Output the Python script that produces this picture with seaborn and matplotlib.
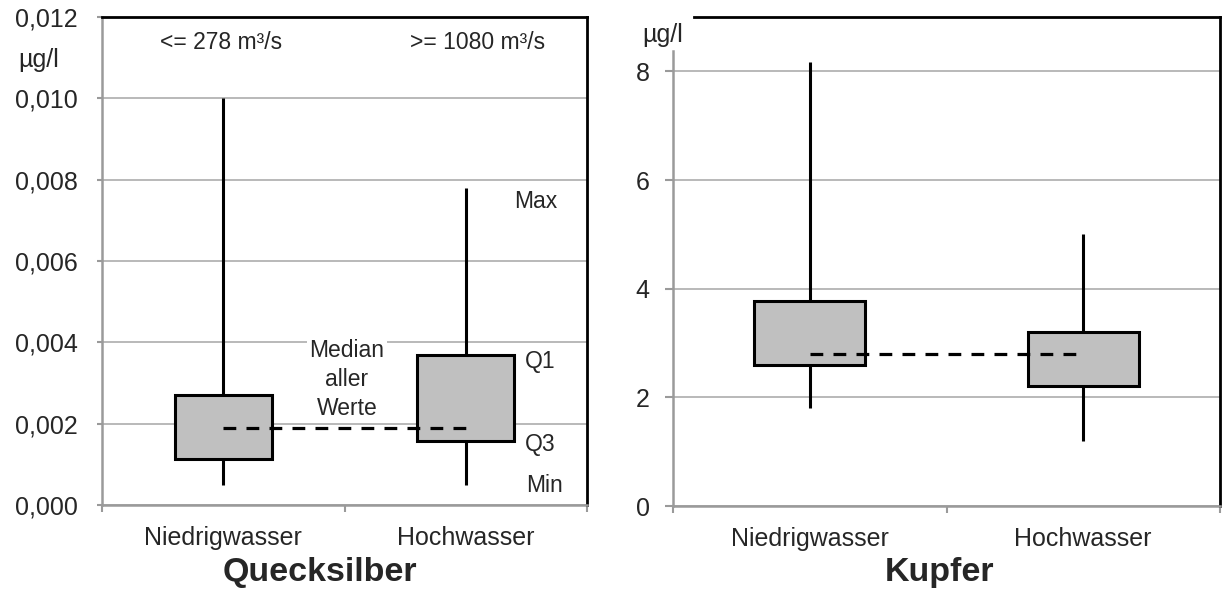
import numpy as np
import pandas as pd
import matplotlib
matplotlib.use("Agg")
import matplotlib.pyplot as plt
import seaborn as sns
from matplotlib.ticker import FixedLocator, FixedFormatter

# ---------------- data ----------------
categories = ["Niedrigwasser", "Hochwasser"]

# Quecksilber (µg/l)
hg_min = [0.0005, 0.0005]
hg_q_low = [0.00114, 0.00158]
hg_q_high = [0.0027, 0.0037]
hg_max = [0.0100, 0.0078]
hg_median_all = 0.0019
hg_yticks = [0.000, 0.002, 0.004, 0.006, 0.008, 0.010, 0.012]
hg_yticklabels = ["0,000", "0,002", "0,004", "0,006", "0,008", "0,010", "0,012"]

# Kupfer (µg/l)
cu_min = [1.8, 1.2]
cu_q_low = [2.6, 2.2]
cu_q_high = [3.77, 3.2]
cu_max = [8.17, 5.0]
cu_median_all = 2.8
cu_yticks = [0, 2, 4, 6, 8]
cu_yticklabels = ["0", "2", "4", "6", "8"]

flow_labels = ["<= 278 m³/s", ">= 1080 m³/s"]
stat_labels = ["Max", "Q1", "Q3", "Min"]
median_label = "Median\naller\nWerte"
titles = ["Quecksilber", "Kupfer"]
unit = "µg/l"

# ---------------- style ----------------
sns.set_style("white")
plt.rcParams["font.family"] = ["Liberation Sans", "DejaVu Sans"]

GRID = "#a6a6a6"
AXGRAY = "#9a9a9a"
BOXFILL = "#c0c0c0"


def long_frame(mins, qlo, qhi, maxs):
    rows = []
    for c, a, b, d, e in zip(categories, mins, qlo, qhi, maxs):
        for v in (a, b, b, d, e):
            rows.append({"cat": c, "val": v})
    return pd.DataFrame(rows)


def draw_panel(ax, df, median_all, yticks, yticklabels, ylim, ytick_len, ypad, width):
    sns.boxplot(data=df, x="cat", y="val", order=categories, ax=ax,
                width=width, whis=(0, 100), color=BOXFILL, saturation=1,
                linecolor="black", linewidth=2.2, showcaps=False,
                medianprops={"visible": False}, fliersize=0)
    ax.plot([0, 1], [median_all, median_all], color="black", lw=2.3,
            dashes=(4, 3.2), zorder=6)
    ax.set_xlim(-0.5, 1.5)
    ax.set_ylim(*ylim)
    ax.set_xlabel("")
    ax.set_ylabel("")
    ax.yaxis.set_major_locator(FixedLocator(yticks))
    ax.yaxis.set_major_formatter(FixedFormatter(yticklabels))
    ax.xaxis.set_minor_locator(FixedLocator([-0.5, 0.5, 1.5]))
    ax.set_axisbelow(True)
    ax.yaxis.grid(True, color=GRID, lw=1.1)
    ax.xaxis.grid(False)
    ax.tick_params(axis="x", which="major", length=0, pad=15, labelsize=18)
    ax.tick_params(axis="x", which="minor", length=5, width=1.5, color=AXGRAY,
                   direction="out", bottom=True)
    ax.tick_params(axis="y", which="major", length=ytick_len, width=1.5,
                   color=AXGRAY, direction="out", left=True, pad=ypad,
                   labelsize=18)
    for s in ("left", "bottom"):
        ax.spines[s].set_color(AXGRAY)
        ax.spines[s].set_linewidth(1.8)
    for s in ("top", "right"):
        ax.spines[s].set_color("black")
        ax.spines[s].set_linewidth(2.0)
        ax.spines[s].set_visible(True)
    for s in ax.spines.values():
        s.set_zorder(7)


fig = plt.figure(figsize=(12.22, 6.03), dpi=100)

# ---------- left: Quecksilber ----------
ax1 = fig.add_axes([102 / 1222, 1 - 505 / 603, 485 / 1222, 488 / 603])
draw_panel(ax1, long_frame(hg_min, hg_q_low, hg_q_high, hg_max), hg_median_all,
           hg_yticks, hg_yticklabels, (0, 0.012), 3.6, 14, 0.4)

ax1.text(-0.01, 0.01138, flow_labels[0], ha="center", va="center", fontsize=16.5)
ax1.text(1.05, 0.01138, flow_labels[1], ha="center", va="center", fontsize=16.5)
ax1.text(1.2, 0.00746, stat_labels[0], ha="left", va="center", fontsize=16.5)
ax1.text(1.245, 0.00353, stat_labels[1], ha="left", va="center", fontsize=16.5)
ax1.text(1.245, 0.00148, stat_labels[2], ha="left", va="center", fontsize=16.5)
ax1.text(1.25, 0.00049, stat_labels[3], ha="left", va="center", fontsize=16.5)
ax1.text(0.51, 0.00309, median_label, ha="center", va="center", fontsize=16.5,
         linespacing=1.35, zorder=4,
         bbox=dict(boxstyle="square,pad=0.1", fc="white", ec="none"))
fig.text(39 / 1222, 1 - 60 / 603, unit, ha="center", va="center", fontsize=18)
fig.text(320 / 1222, 1 - 572 / 603, titles[0], ha="center", va="center",
         fontsize=24.5, fontweight="bold")

# ---------- right: Kupfer ----------
ax2 = fig.add_axes([673 / 1222, 1 - 506 / 603, 547 / 1222, 489 / 603])
draw_panel(ax2, long_frame(cu_min, cu_q_low, cu_q_high, cu_max), cu_median_all,
           cu_yticks, cu_yticklabels, (0, 9.0), 5.8, 11, 0.405)
ax2.spines["left"].set_bounds(0, 8.37)
ax2.spines["top"].set_bounds(-0.423, 1.5)
fig.text(663 / 1222, 1 - 35 / 603, unit, ha="center", va="center", fontsize=18)
fig.text(940 / 1222, 1 - 572 / 603, titles[1], ha="center", va="center",
         fontsize=24.5, fontweight="bold")

fig.savefig("out.png", dpi=100, facecolor="white")
